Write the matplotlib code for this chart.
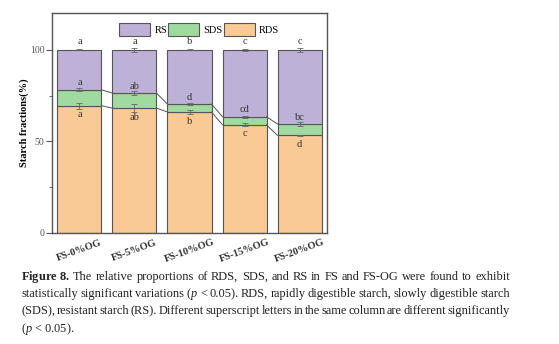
import numpy as np
import matplotlib
matplotlib.use("Agg")
import matplotlib.pyplot as plt

# data
groups = ["FS-0%OG", "FS-5%OG", "FS-10%OG", "FS-15%OG", "FS-20%OG"]
rds = [69.4, 68.1, 66.0, 59.0, 53.2]
sds = [8.7, 8.2, 4.3, 4.4, 6.2]
rs = [100 - r - s for r, s in zip(rds, sds)]
rds_err = [1.5, 2.0, 1.0, 0.8, 0.5]
sds_err = [0.8, 0.9, 0.7, 0.5, 0.9]
rs_err = [0.3, 1.2, 0.4, 0.5, 1.2]
rds_letters = ["a", "ab", "b", "c", "d"]
sds_letters = ["a", "ab", "d", "cd", "bc"]
rs_letters = ["a", "a", "b", "c", "c"]

c_rds = "#F9C996"
c_sds = "#9FDA9F"
c_rs = "#BDB1D8"
edge = "#555555"

plt.rcParams['font.family'] = 'serif'
plt.rcParams['font.serif'] = ['Liberation Serif', 'DejaVu Serif']
plt.rcParams['mathtext.fontset'] = 'custom'
plt.rcParams['mathtext.rm'] = 'Liberation Serif'
plt.rcParams['mathtext.it'] = 'Liberation Serif:italic'
plt.rcParams['mathtext.bf'] = 'Liberation Serif:bold'

fig = plt.figure(figsize=(5.59, 3.44), dpi=100)
ax = fig.add_axes([0.093, 0.323, 0.492, 0.639])

x = np.arange(len(groups))
w = 0.8
top_sds = np.array(rds) + np.array(sds)

ax.bar(x, rds, w, color=c_rds, edgecolor=edge, linewidth=0.8, label="RDS")
ax.bar(x, sds, w, bottom=rds, color=c_sds, edgecolor=edge, linewidth=0.8, label="SDS")
ax.bar(x, rs, w, bottom=top_sds, color=c_rs, edgecolor=edge, linewidth=0.8, label="RS")

ekw = dict(fmt="none", ecolor="#666666", elinewidth=0.6, capsize=2, capthick=0.6)
ax.errorbar(x, rds, yerr=rds_err, **ekw)
ax.errorbar(x, top_sds, yerr=sds_err, **ekw)
ax.errorbar(x, np.full(len(x), 100.0), yerr=rs_err, **ekw)

# connecting lines between bars
for i in range(len(x) - 1):
    for yy in (rds, top_sds):
        ax.plot([x[i] + w / 2, x[i + 1] - w / 2], [yy[i], yy[i + 1]],
                color=edge, linewidth=0.7)

for i in range(len(x)):
    ax.text(x[i], 102.2, rs_letters[i], ha="center", va="bottom", fontsize=7.5, color="#333")
    ax.text(x[i], top_sds[i] + 1.3, sds_letters[i], ha="center", va="bottom", fontsize=7.5, color="#333")
    ax.text(x[i], rds[i] - 2.5, rds_letters[i], ha="center", va="top", fontsize=7.5, color="#333")

ax.set_xlim(-0.5, 4.5)
ax.set_ylim(0, 120)
ax.set_yticks([0, 50, 100])
ax.set_yticks([25, 75], minor=True)
ax.tick_params(axis="y", labelsize=7, labelcolor="#555", color="#555", direction="out", length=4, pad=1.5)
ax.tick_params(axis="y", which="minor", length=2.5, color="#555")
ax.tick_params(axis="x", length=0)
ax.set_xticks(x)
ax.set_xticklabels(groups, rotation=20, fontsize=7.5, fontweight="bold", color="#333")
for s in ax.spines.values():
    s.set_color("#555")
    s.set_linewidth(1.0)
ax.set_ylabel("Starch fractions(%)", fontsize=7.5, fontweight="bold")
ax.yaxis.set_label_coords(-0.084, 0.5)

h, l = ax.get_legend_handles_labels()
ax.legend(h[::-1], l[::-1], ncol=3, loc="center", bbox_to_anchor=(0.535, 0.925),
          frameon=False, fontsize=7.5, handlelength=3.0, handleheight=1.6,
          handletextpad=0.4, columnspacing=0.1)

cap = [
    r"$\mathbf{Figure\ 8.}$ The relative proportions of RDS, SDS, and RS in FS and FS-OG were found to exhibit",
    r"statistically significant variations ($p$ < 0.05). RDS, rapidly digestible starch, slowly digestible starch",
    r"(SDS), resistant starch (RS). Different superscript letters in the same column are different significantly",
    r"($p$ < 0.05).",
]

# justified caption: place words one by one
x0, x1 = 21, 510
fs = 8.9
fig.canvas.draw()
r = fig.canvas.get_renderer()
for k, line in enumerate(cap):
    yfig = 1 - (277 + 17.2 * k) / 344
    if k == len(cap) - 1:
        fig.text(x0 / 559, yfig, line, fontsize=fs, va="center", ha="left", color="#222")
        continue
    words = line.split(" ")
    # keep the bold mathtext block together
    if words[0].startswith("$\\mathbf"):
        words = [words[0] + " " + words[1]] + words[2:]
    texts = [fig.text(0, yfig, wd, fontsize=fs, va="center", ha="left", color="#222") for wd in words]
    widths = [t.get_window_extent(r).width for t in texts]
    gap = (x1 - x0 - sum(widths)) / (len(words) - 1)
    pos = x0
    for t, wdt in zip(texts, widths):
        t.set_x(pos / 559)
        pos += wdt + gap

fig.savefig("out.png", dpi=100)
